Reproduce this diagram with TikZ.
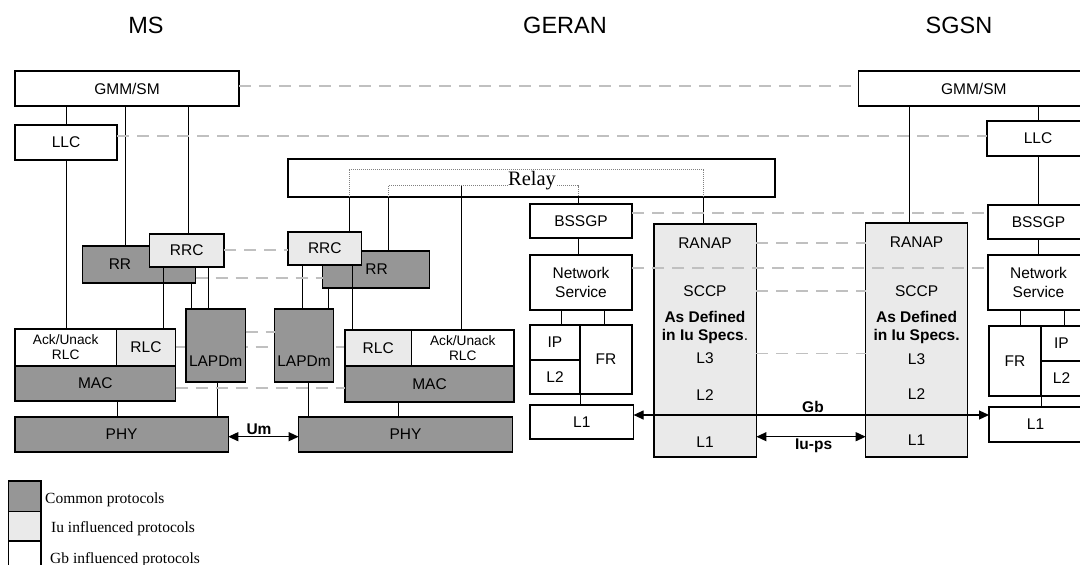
\documentclass[tikz,border=0pt]{standalone}
\usepackage{fontspec}
\setmainfont{Liberation Sans}
\newfontfamily\serifrm{Liberation Serif}
\usetikzlibrary{arrows.meta}
\definecolor{common}{HTML}{969696}
\definecolor{iu}{HTML}{EAEAEA}
\definecolor{dashgray}{HTML}{C0C0C0}
\definecolor{dotgray}{HTML}{808080}
\newcommand\lblfont{\fontsize{15.5}{19.5}\selectfont}
\newcommand\smlfont{\fontsize{13.7}{15}\selectfont}
\newcommand\hdrfont{\fontsize{23.5}{28}\selectfont}
\newcommand\mkbox[7]{\node[box,#6,minimum width={(#4-#2)*1pt},minimum height={(#5-#3)*1pt},anchor=north west] (#1) at (#2,#3) {#7};}
\begin{document}
\begin{tikzpicture}[x=1pt,y=-1pt,
  box/.style={draw=black,line width=1.2pt,inner sep=0pt,outer sep=0pt,align=center,font=\lblfont},
  lbl/.style={inner sep=0pt,align=center,font=\lblfont},
  blbl/.style={inner sep=0pt,align=center,font=\lblfont\bfseries},
  hdr/.style={inner sep=0pt,font=\hdrfont},
  legtxt/.style={inner sep=0pt,font=\serifrm\fontsize{15.5}{18}\selectfont},
  conn/.style={draw=black,line width=1pt},
  dashln/.style={draw=dashgray,line width=1.8pt,dash pattern=on 12pt off 8pt},
  dotln/.style={draw=dotgray,line width=0.6pt,dash pattern=on 1pt off 1pt},
  dblarrow/.style={draw=black,line width=1.2pt,{Triangle[length=10pt,width=9pt]}-{Triangle[length=10pt,width=9pt]}}]
\useasboundingbox (0,0) rectangle (1080,565);
\clip (0,0) rectangle (1080,565);
\fill[white] (0,0) rectangle (1080,565);

% headers
\node[hdr] (hms) at (146,25.5) {MS};
\node[hdr] (hgeran) at (565,25.5) {GERAN};
\node[hdr] (hsgsn) at (959,25.5) {SGSN};

% dashed line hidden behind the LAPDm boxes
\coordinate (rlcdashA) at (175.6,346.7);
\coordinate (rlcdashB) at (345,346.7);
\draw[dashln] (rlcdashA) -- (rlcdashB);

% ---------------- MS ----------------
\mkbox{gmmms}{15}{71}{239}{106}{fill=white}{GMM/SM}
\mkbox{llcms}{15}{125}{117}{160}{fill=white}{LLC}
\mkbox{rrms}{82.6}{246}{195.6}{283}{fill=common}{}
\mkbox{rrcms}{149.4}{234}{224}{267}{fill=iu}{RRC}
\mkbox{ackms}{15}{329}{116.4}{366}{fill=white,font=\smlfont}{Ack/Unack\\RLC}
\mkbox{rlcms}{116.4}{329}{175.6}{366}{fill=iu}{RLC}
\mkbox{macms}{15}{366}{175.6}{401}{fill=common}{MAC}
\mkbox{lapms}{186}{309}{245.5}{382}{fill=common}{}
\mkbox{phyms}{15}{417}{228.3}{452}{fill=common}{PHY}
\node[lbl] (rrmstxt) at (120,264) {RR};
\node[lbl] (lapmstxt) at (215.7,361) {LAPDm};

% ---------------- GERAN ----------------
\mkbox{relay}{288}{159}{775}{197}{fill=white}{}
\mkbox{rrg}{322.7}{251}{429.8}{288}{fill=common}{}
\mkbox{rrcg}{288}{232}{361.6}{265}{fill=iu}{RRC}
\mkbox{lapg}{274.5}{309}{333.3}{382}{fill=common}{}
\mkbox{rlcg}{345}{330}{411.5}{366}{fill=iu}{RLC}
\mkbox{ackg}{411.5}{330}{514}{366}{fill=white,font=\smlfont}{Ack/Unack\\RLC}
\mkbox{macg}{345}{366}{514}{402}{fill=common}{MAC}
\mkbox{phyg}{298.6}{417}{512.4}{452}{fill=common}{PHY}
\node[lbl] (rrgtxt) at (376.5,269) {RR};
\node[lbl] (lapgtxt) at (304,361) {LAPDm};
\mkbox{bssgpg}{530}{204}{632}{238}{fill=white}{BSSGP}
\mkbox{nsg}{530}{255}{632}{310}{fill=white}{Network\\Service}
\mkbox{ipg}{530}{325}{580}{360}{fill=white}{IP}
\mkbox{l2g}{530}{360}{580}{394}{fill=white}{L2}
\mkbox{frg}{580}{325}{632}{394}{fill=white}{FR}
\mkbox{l1g}{530}{405}{633.6}{439}{fill=white}{L1}
\mkbox{bigg}{654}{224}{756.4}{457}{fill=iu}{}

% ---------------- SGSN ----------------
\mkbox{gmms}{858.6}{71}{1089}{106}{fill=white}{GMM/SM}
\mkbox{llcs}{987}{121}{1089}{156}{fill=white}{LLC}
\mkbox{bssgps}{988}{205}{1089}{239}{fill=white}{BSSGP}
\mkbox{nss}{988}{255}{1089}{310}{fill=white}{Network\\Service}
\mkbox{frs}{989}{326}{1041}{396}{fill=white}{FR}
\mkbox{ips}{1041}{326}{1082}{361}{fill=white}{IP}
\mkbox{l2s}{1041}{361}{1082}{396}{fill=white}{L2}
\mkbox{l1s}{989}{407}{1082}{442}{fill=white}{L1}
\mkbox{bigs}{865.7}{223}{967.5}{457}{fill=iu}{}

% big box texts
\node[lbl] (ranapg) at (705,243) {RANAP};
\node[lbl] (sccpg) at (705,291) {SCCP};
\node[blbl,font=\fontsize{15.5}{18.4}\selectfont\bfseries] (asdefg) at (705,327.5) {As Defined\\in Iu Specs\mdseries.};
\node[lbl] (l3g) at (705,358.3) {L3};
\node[lbl] (l2gb) at (705,395) {L2};
\node[lbl] (l1gb) at (705,441.7) {L1};
\node[lbl] (ranaps) at (916.6,242) {RANAP};
\node[lbl] (sccps) at (916.6,291) {SCCP};
\node[blbl,font=\fontsize{15.5}{18.4}\selectfont\bfseries] (asdefs) at (916.6,327.5) {As Defined\\in Iu Specs.};
\node[lbl] (l3s) at (916.6,359) {L3};
\node[lbl] (l2sb) at (916.6,394.5) {L2};
\node[lbl] (l1sb) at (916.6,440.5) {L1};

% dotted relay paths
\draw[dotln] (relay.south -| 349,0) |- (703.6,169) -- (relay.south -| 703.6,0);
\draw[dotln] (relay.south -| 388.4,0) |- (578,185.7) -- (relay.south -| 578,0);
\node[inner sep=0.5pt,fill=white,font=\serifrm\fontsize{20.5}{24}\selectfont] (relaytxt) at (532,181) {Relay};

% ---------------- connectors ----------------
% MS
\draw[conn] (gmmms.south -| 66,0) -- (llcms.north -| 66,0);
\draw[conn] (llcms.south -| 66,0) -- (ackms.north -| 66,0);
\draw[conn] (gmmms.south -| 125,0) -- (rrms.north -| 125,0);
\draw[conn] (gmmms.south -| 188,0) -- (rrcms.north -| 188,0);
\draw[conn] (rrcms.south -| 163.6,0) -- (rlcms.north -| 163.6,0);
\draw[conn] (rrms.south -| 191,0) -- (lapms.north -| 191,0);
\draw[conn] (rrcms.south -| 208.7,0) -- (lapms.north -| 208.7,0);
\draw[conn] (macms.south -| 117,0) -- (phyms.north -| 117,0);
\draw[conn] (lapms.south -| 217.3,0) -- (phyms.north -| 217.3,0);
% GERAN
\draw[conn] (relay.south -| 349,0) -- (rrcg.north -| 349,0);
\draw[conn] (relay.south -| 703.6,0) -- (bigg.north -| 703.6,0);
\draw[conn] (relay.south -| 388.4,0) -- (rrg.north -| 388.4,0);
\coordinate (relayjoin) at (461.4,185.7);
\draw[conn] (relayjoin) -- (ackg.north -| 461.4,0);
\draw[conn] (relay.south -| 578,0) -- (bssgpg.north -| 578,0);
\draw[conn] (rrcg.south -| 302,0) -- (lapg.north -| 302,0);
\draw[conn] (rrg.south -| 328.9,0) -- (lapg.north -| 328.9,0);
\draw[conn] (rrcg.south -| 352,0) -- (rlcg.north -| 352,0);
\draw[conn] (lapg.south -| 308.2,0) -- (phyg.north -| 308.2,0);
\draw[conn] (macg.south -| 398.8,0) -- (phyg.north -| 398.8,0);
\draw[conn] (bssgpg.south -| 578,0) -- (nsg.north -| 578,0);
\draw[conn] (nsg.south -| 561.8,0) -- (ipg.north -| 561.8,0);
\draw[conn] (nsg.south -| 604.6,0) -- (frg.north -| 604.6,0);
\draw[conn] (frg.south west) -- (l1g.north -| frg.south west);
% SGSN
\draw[conn] (gmms.south -| 909.6,0) -- (bigs.north -| 909.6,0);
\draw[conn] (gmms.south -| 1038,0) -- (llcs.north -| 1038,0);
\draw[conn] (llcs.south -| 1038,0) -- (bssgps.north -| 1038,0);
\draw[conn] (bssgps.south -| 1038,0) -- (nss.north -| 1038,0);
\draw[conn] (nss.south -| 1020,0) -- (frs.north -| 1020,0);
\draw[conn] (nss.south -| 1064,0) -- (ips.north -| 1064,0);
\draw[conn] (frs.south east) -- (l1s.north -| frs.south east);

% ---------------- peer (dashed) lines ----------------
\draw[dashln] (gmmms.east |- 0,86) -- (gmms.west |- 0,86);
\draw[dashln] (llcms.east |- 0,136) -- (llcs.west |- 0,136);
\draw[dashln] (rrcms.east |- 0,250) -- (rrcg.west |- 0,250);
\draw[dashln] (rrms.east |- 0,278.3) -- (rrg.west |- 0,278.3);
\draw[dashln] (lapms.east |- 0,331.7) -- (lapg.west |- 0,331.7);
\draw[dashln] (macms.east |- 0,388.3) -- (macg.west |- 0,388.3);
\draw[dashln] (bssgpg.east |- 0,212.7) -- (bssgps.west |- 0,212.7);
\draw[dashln] (bigg.east |- 0,243.3) -- (bigs.west |- 0,243.3);
\draw[dashln] (nsg.east |- 0,268.3) -- (nss.west |- 0,268.3);
\draw[dashln] (bigg.east |- 0,290.7) -- (bigs.west |- 0,290.7);
\draw[dashln] (bigg.east |- 0,353.5) -- (bigs.west |- 0,353.5);

% ---------------- interfaces ----------------
\draw[dblarrow] (phyms.east |- 0,436.7) -- (phyg.west |- 0,436.7);
\node[blbl] (umtxt) at (259,429.5) {Um};
\draw[dblarrow] (l1g.east |- 0,415) -- (l1s.west |- 0,415);
\node[blbl] (gbtxt) at (813,406.5) {Gb};
\draw[dblarrow] (bigg.east |- 0,436.7) -- (bigs.west |- 0,436.7);
\node[blbl] (iupstxt) at (813.6,446) {Iu-ps};

% ---------------- legend ----------------
\mkbox{legc}{8.3}{481}{41}{511.7}{fill=common}{}
\mkbox{legi}{8.3}{511.7}{41}{541}{fill=iu}{}
\mkbox{legg}{8.3}{541}{41}{580}{fill=white}{}
\node[legtxt,anchor=base west] (legctxt) at (45,503.5) {Common protocols};
\node[legtxt,anchor=base west] (legitxt) at (51,532.7) {Iu influenced protocols};
\node[legtxt,anchor=base west] (leggtxt) at (50,563) {Gb influenced protocols};
\end{tikzpicture}
\end{document}
